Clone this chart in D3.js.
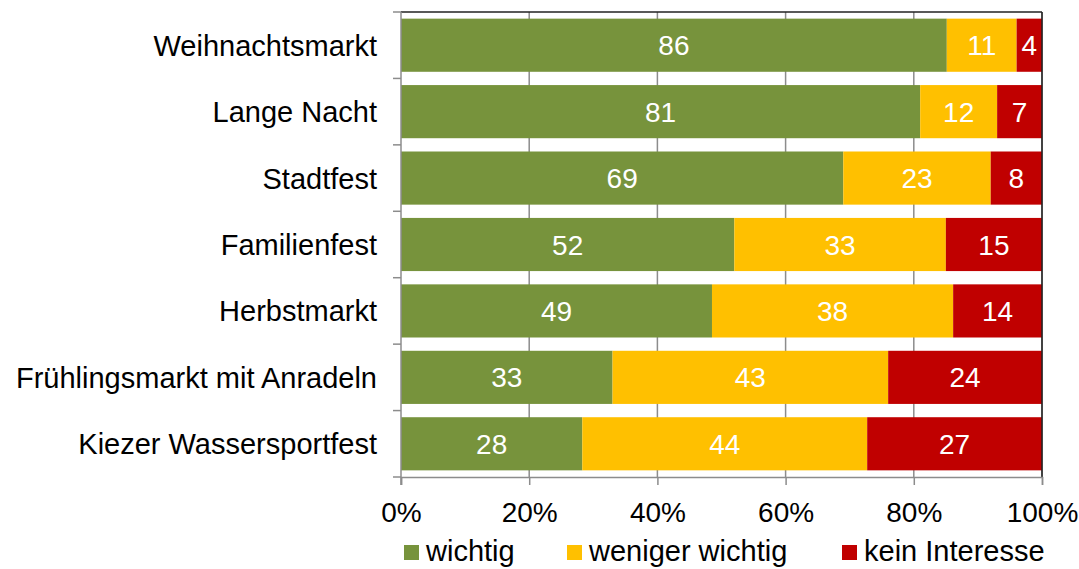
<!DOCTYPE html>
<html>
<head>
<meta charset="utf-8">
<script src="https://cdn.jsdelivr.net/npm/d3@7"></script>
<style>
  body { margin: 0; background: #fff; font-family: "Liberation Sans", Arial, sans-serif; }
  svg text { font-family: "Liberation Sans", Arial, sans-serif; }
</style>
</head>
<body>
<script>
var categories = ['Weihnachtsmarkt', 'Lange Nacht', 'Stadtfest', 'Familienfest', 'Herbstmarkt', 'Frühlingsmarkt mit Anradeln', 'Kiezer Wassersportfest']
var wichtig = [86, 81, 69, 52, 49, 33, 28]
var wenigerWichtig = [11, 12, 23, 33, 38, 43, 44]
var keinInteresse = [4, 7, 8, 15, 14, 24, 27]
var seriesNames = ['wichtig', 'weniger wichtig', 'kein Interesse']
var colors = ['#77933C', '#FFC000', '#C00000']
var xTicks = [0, 0.2, 0.4, 0.6, 0.8, 1]

var width = 1079, height = 569
var margin = {left: 401, right: 37, top: 12, bottom: 92}

var svg = d3.select('body').append('svg').attr('width', width).attr('height', height)

var x = d3.scaleLinear().domain([0, 1]).range([margin.left, width - margin.right])
var y = d3.scaleBand().domain(categories).range([margin.top, height - margin.bottom]).paddingInner(0.2).paddingOuter(0.1)

var rows = categories.map(function(c, i){
  return {cat: c, vals: [wichtig[i], wenigerWichtig[i], keinInteresse[i]]}
})

// gridlines
svg.append('g').selectAll('line').data(xTicks.slice(1)).join('line')
  .attr('x1', d => x(d)).attr('x2', d => x(d))
  .attr('y1', margin.top).attr('y2', height - margin.bottom)
  .attr('stroke', '#8c8c8c').attr('stroke-width', 1.5)

// bars (segments normalized to 100%)
rows.forEach(function(r){
  var total = d3.sum(r.vals)
  var acc = 0
  var g = svg.append('g')
  r.vals.forEach(function(v, j){
    var x0 = x(acc / total), x1 = x((acc + v) / total)
    acc += v
    g.append('rect')
      .attr('x', x0).attr('y', y(r.cat))
      .attr('width', x1 - x0).attr('height', y.bandwidth())
      .attr('fill', colors[j])
    g.append('text')
      .attr('x', (x0 + x1) / 2).attr('y', y(r.cat) + y.bandwidth() / 2)
      .attr('dy', '0.36em').attr('text-anchor', 'middle')
      .attr('fill', '#fff').attr('font-size', 28)
      .text(v)
  })
})

// frame top/right
svg.append('line').attr('x1', x(0)).attr('x2', x(1)).attr('y1', margin.top).attr('y2', margin.top)
  .attr('stroke', '#222').attr('stroke-width', 1.5)
svg.append('line').attr('x1', x(1)).attr('x2', x(1)).attr('y1', margin.top).attr('y2', height - margin.bottom)
  .attr('stroke', '#222').attr('stroke-width', 1.5)

// left axis
var bounds = d3.range(categories.length + 1).map(i => margin.top + i * (height - margin.top - margin.bottom) / categories.length)
svg.append('line').attr('x1', x(0)).attr('x2', x(0)).attr('y1', margin.top).attr('y2', height - margin.bottom + 8)
  .attr('stroke', '#8c8c8c').attr('stroke-width', 1.5)
svg.append('g').selectAll('line').data(bounds).join('line')
  .attr('x1', x(0) - 8).attr('x2', x(0)).attr('y1', d => d).attr('y2', d => d)
  .attr('stroke', '#8c8c8c').attr('stroke-width', 1.5)

svg.append('g').selectAll('text').data(categories).join('text')
  .attr('x', 377).attr('y', d => y(d) + y.bandwidth() / 2).attr('dy', '0.36em')
  .attr('text-anchor', 'end').attr('font-size', 29).attr('fill', '#000')
  .text(d => d)

// bottom axis
var xAxis = d3.axisBottom(x).tickValues(xTicks).tickFormat(d3.format('.0%')).tickSize(8)
var ax = svg.append('g').attr('transform', 'translate(0,' + (height - margin.bottom) + ')').call(xAxis)
ax.select('.domain').attr('stroke', '#8c8c8c').attr('stroke-width', 1.5)
ax.selectAll('.tick line').attr('stroke', '#8c8c8c').attr('stroke-width', 1.5)
ax.selectAll('.tick text').attr('font-size', 28).attr('fill', '#000').attr('y', 45).attr('dy', 0)

// legend (nudged up a little so descenders stay inside)
var legendX = [404, 567, 842]
var leg = svg.append('g').selectAll('g').data(seriesNames).join('g')
  .attr('transform', (d, i) => 'translate(' + legendX[i] + ',545)')
leg.append('rect').attr('width', 15).attr('height', 15).attr('fill', (d, i) => colors[i])
leg.append('text').attr('x', 22).attr('y', 16).attr('font-size', 29).attr('fill', '#000').text(d => d)
</script>
</body>
</html>
